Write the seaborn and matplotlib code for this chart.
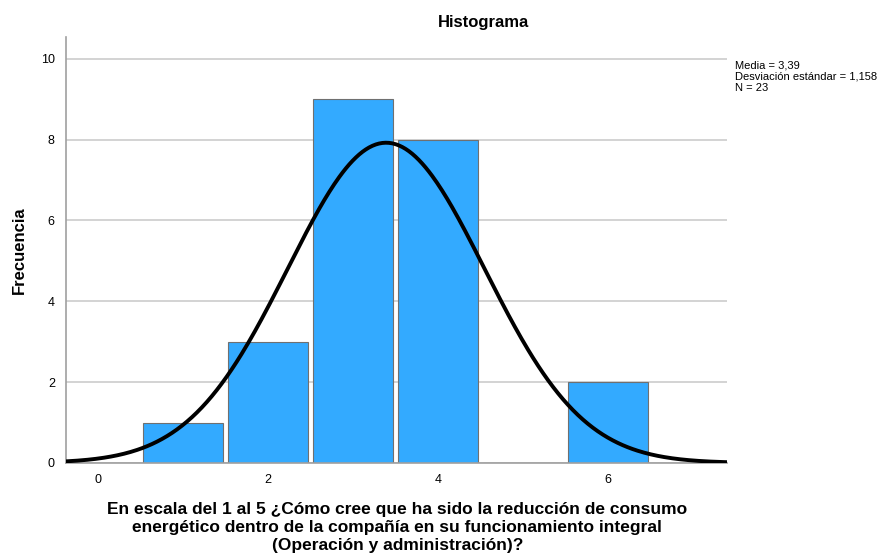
import numpy as np
import pandas as pd
import seaborn as sns
import matplotlib.pyplot as plt

# valores de la escala y frecuencias
valores = [1, 2, 3, 4, 6]
frecuencias = [1, 3, 9, 8, 2]
media = 3.39
desv = 1.158
n = 23

sns.set_theme(style="white")
plt.rcParams["font.family"] = ["Liberation Sans", "DejaVu Sans"]
plt.rcParams["text.color"] = "black"
plt.rcParams["axes.labelcolor"] = "black"
plt.rcParams["xtick.color"] = "black"
plt.rcParams["ytick.color"] = "black"

df = pd.DataFrame({"valor": valores, "frecuencia": frecuencias})

fig = plt.figure(figsize=(8.95, 5.56), dpi=100)
ax = fig.add_axes([0.0737, 0.1673, 0.7386, 0.7662])

sns.histplot(data=df, x="valor", weights="frecuencia", discrete=True, shrink=0.94,
             color="#33AAFF", edgecolor="#707070", linewidth=0.8, alpha=1, ax=ax, zorder=2)

# curva normal
xs = np.linspace(-0.376, 7.4, 400)
ys = n * np.exp(-0.5 * ((xs - media) / desv) ** 2) / (desv * np.sqrt(2 * np.pi))
sns.lineplot(x=xs, y=ys, color="black", linewidth=2.8, ax=ax, zorder=3)

ax.set_xlim(-0.376, 7.4)
ax.set_ylim(0, 10.54)
ax.set_xticks([0, 2, 4, 6])
ax.set_yticks([0, 2, 4, 6, 8, 10])
ax.yaxis.grid(True, color="#CCCCCC", linewidth=1.2, zorder=0)
ax.set_axisbelow(True)
ax.tick_params(axis="both", labelsize=9, length=0, pad=8)
for s in ["top", "right"]:
    ax.spines[s].set_visible(False)
for s in ["left", "bottom"]:
    ax.spines[s].set_color("#A0A0A0")
    ax.spines[s].set_linewidth(1.2)

ax.set_xlabel("")
ax.set_ylabel("Frecuencia", fontsize=12, fontweight="bold", labelpad=10)

fig.text(0.444, 0.006,
         "En escala del 1 al 5 ¿Cómo cree que ha sido la reducción de consumo\n"
         "energético dentro de la compañía en su funcionamiento integral\n"
         "(Operación y administración)?",
         ha="center", va="bottom", fontsize=12.5, fontweight="bold", linespacing=1.22)
fig.text(0.54, 0.96, "Histograma", ha="center", va="center", fontsize=12, fontweight="bold")
fig.text(0.821, 0.892, f"Media = 3,39\nDesviación estándar = 1,158\nN = {n}",
         ha="left", va="top", fontsize=8, linespacing=1.17)

fig.savefig("out.png", dpi=100)
